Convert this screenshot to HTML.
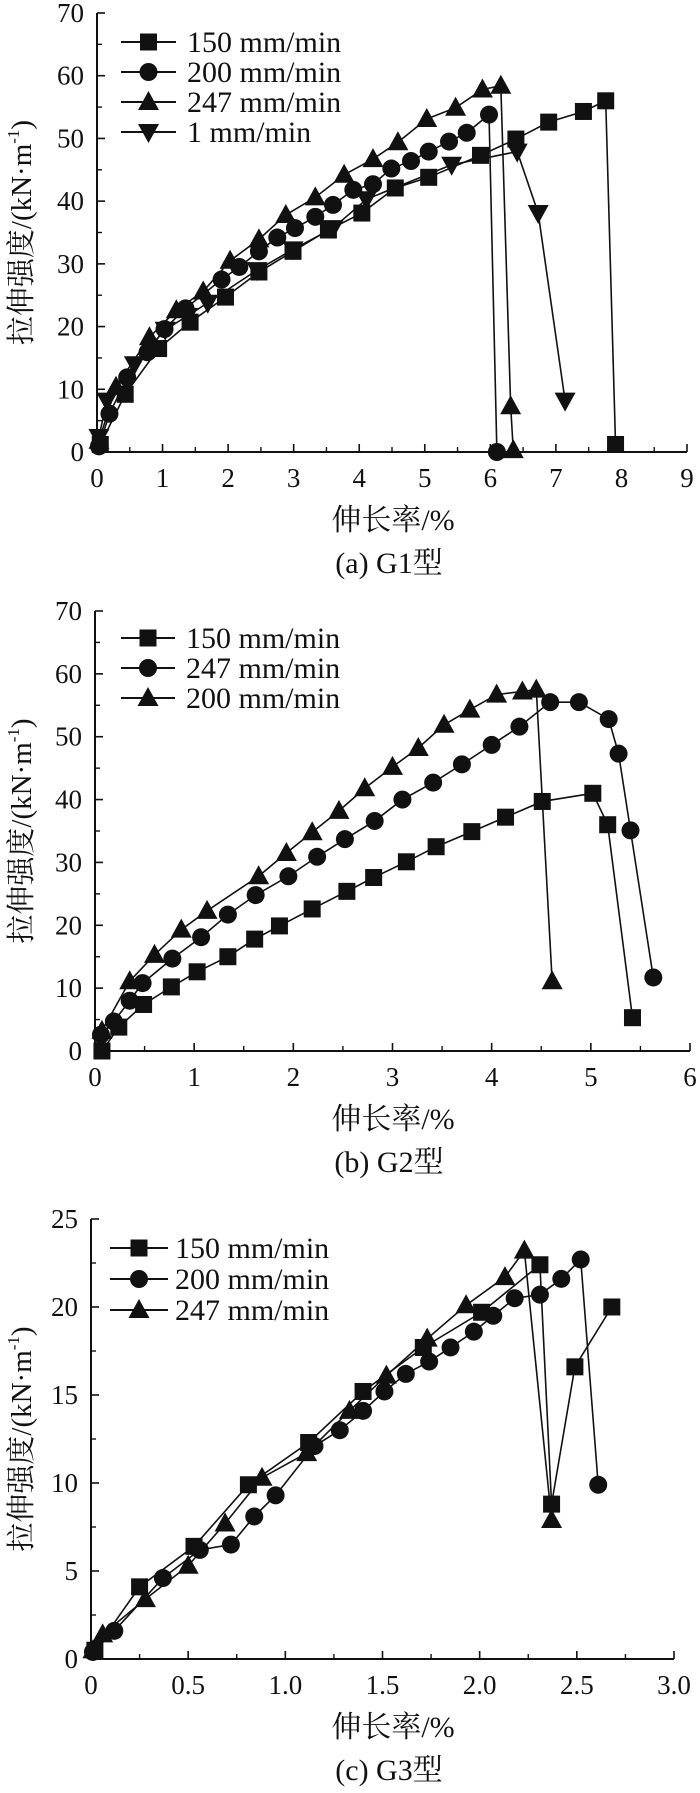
<!DOCTYPE html>
<html><head><meta charset="utf-8"><style>
html,body{margin:0;padding:0;background:#fff;}
svg{display:block;}
text{font-family:"Liberation Serif","Noto Serif CJK SC","Noto Sans CJK SC",serif;fill:#111;}
</style></head><body>
<svg id="fig" width="700" height="1793" viewBox="0 0 700 1793" xmlns="http://www.w3.org/2000/svg"></svg>
<script>
// ---- Chart (a) G1 data ----
const g1Labels = ["150 mm/min","200 mm/min","247 mm/min","1 mm/min"];
const g1S150x = [0.05,0.43,0.94,1.42,1.96,2.47,2.99,3.53,4.04,4.55,5.06,5.85,6.39,6.89,7.42,7.76,7.91];
const g1S150y = [1.2,9.2,16.5,20.7,24.7,28.7,32,35.4,38.1,42.1,43.8,47.3,49.9,52.6,54.3,56,1.2];
const g1S200x = [0.03,0.19,0.46,0.77,1.03,1.35,1.9,2.17,2.47,2.75,3.02,3.33,3.6,3.91,4.21,4.49,4.79,5.06,5.37,5.64,5.98,6.1];
const g1S200y = [0.9,6.1,11.9,15.9,19.6,22.9,27.5,29.5,32,34.2,35.7,37.5,39.4,41.8,42.7,45.2,46.4,47.9,49.5,50.9,53.8,0];
const g1S247x = [0.03,0.29,0.8,1.21,1.62,2.03,2.47,2.88,3.33,3.77,4.21,4.59,5.03,5.47,5.88,6.16,6.31,6.35];
const g1S247y = [1.8,10.4,18.3,22.6,25.6,30.5,33.9,37.8,40.6,44.2,46.7,49.4,53.1,54.9,57.8,58.4,7.3,0.3];
const g1S1x = [0.03,0.15,0.57,1.04,1.38,1.69,2.44,2.99,3.6,4.11,5.41,6.41,6.73,7.14];
const g1S1y = [2.4,8.2,14,19.5,21.7,23.8,29,32.3,35.7,40.3,45.8,47.9,38.1,8.2];
const g1XTicks = ["0","1","2","3","4","5","6","7","8","9"];
const g1YTicks = ["0","10","20","30","40","50","60","70"];

// ---- Chart (b) G2 data ----
const g2Labels = ["150 mm/min","247 mm/min","200 mm/min"];
const g2S150x = [0.07,0.24,0.49,0.77,1.03,1.34,1.61,1.86,2.19,2.54,2.81,3.14,3.44,3.8,4.14,4.51,5.02,5.17,5.42];
const g2S150y = [0,3.8,7.4,10.2,12.6,15,17.8,19.9,22.6,25.4,27.6,30.1,32.5,34.9,37.2,39.7,41,36,5.3];
const g2S247x = [0.06,0.19,0.35,0.48,0.78,1.07,1.34,1.62,1.95,2.24,2.52,2.82,3.1,3.41,3.7,4.0,4.28,4.59,4.88,5.18,5.28,5.4,5.63];
const g2S247y = [2.6,4.7,8,10.8,14.7,18.1,21.7,24.8,27.8,30.9,33.7,36.6,40,42.7,45.6,48.7,51.6,55.5,55.5,52.8,47.3,35.1,11.7];
const g2S200x = [0.07,0.35,0.6,0.87,1.13,1.65,1.93,2.19,2.46,2.72,3.0,3.26,3.52,3.78,4.05,4.31,4.45,4.61];
const g2S200y = [3.2,11.1,15.3,19.3,22.3,27.8,31.5,34.8,38.2,41.8,45.2,48.2,51.9,54.3,56.7,57.2,57.5,11.1];
const g2XTicks = ["0","1","2","3","4","5","6"];
const g2YTicks = ["0","10","20","30","40","50","60","70"];

// ---- Chart (c) G3 data ----
const g3Labels = ["150 mm/min","200 mm/min","247 mm/min"];
const g3S150x = [0.02,0.25,0.53,0.81,1.12,1.4,1.71,2.01,2.31,2.37,2.49,2.68];
const g3S150y = [0.5,4.1,6.4,9.9,12.3,15.2,17.7,19.7,22.4,8.8,16.6,20];
const g3S200x = [0.01,0.12,0.37,0.56,0.72,0.84,0.95,1.15,1.28,1.4,1.51,1.62,1.74,1.85,1.97,2.07,2.18,2.31,2.42,2.52,2.61];
const g3S200y = [0.4,1.6,4.6,6.2,6.5,8.1,9.3,12.1,13,14.1,15.2,16.2,16.9,17.7,18.6,19.5,20.5,20.7,21.6,22.7,9.9];
const g3S247x = [0.01,0.06,0.28,0.5,0.69,0.88,1.11,1.33,1.52,1.73,1.93,2.13,2.23,2.37];
const g3S247y = [0.5,1.4,3.4,5.3,7.7,10.3,11.7,14.1,16.1,18.2,20.1,21.7,23.2,7.9];
const g3XTicks = ["0","0.5","1.0","1.5","2.0","2.5","3.0"];
const g3YTicks = ["0","5","10","15","20","25"];

const NS = "http://www.w3.org/2000/svg";
const svg = document.getElementById("fig");
function mk(tag, attrs, parent) {
  const e = document.createElementNS(NS, tag);
  for (const k in attrs) e.setAttribute(k, attrs[k]);
  (parent || svg).appendChild(e);
  return e;
}
function marker(g, shape, cx, cy) {
  let m;
  if (shape === "square") {
    m = mk("rect", {x: cx-8.5, y: cy-8.5, width: 17, height: 17, fill: "#111"}, g);
  } else if (shape === "circle") {
    m = mk("circle", {cx: cx, cy: cy, r: 9, fill: "#111"}, g);
  } else if (shape === "tri") {
    m = mk("polygon", {points: `${cx},${cy-11} ${cx-10.5},${cy+8} ${cx+10.5},${cy+8}`, fill: "#111"}, g);
  } else {
    m = mk("polygon", {points: `${cx},${cy+11} ${cx-10.5},${cy-8} ${cx+10.5},${cy-8}`, fill: "#111"}, g);
  }
  return m;
}

function chart(c) {
  const g = mk("g", {});
  
  
  const xs = v => c.x0 + (v - c.xMin) / (c.xMax - c.xMin) * (c.x1 - c.x0);
  const ys = v => c.y0 - (v - c.yMin) / (c.yMax - c.yMin) * (c.y0 - c.y1);
  // axes
  const ax = mk("g", {}, g);
  
  
  mk("line", {x1: c.x0, y1: c.y0, x2: c.x1, y2: c.y0, stroke: "#111", "stroke-width": 2}, ax);
  mk("line", {x1: c.x0, y1: c.y0, x2: c.x0, y2: c.y1, stroke: "#111", "stroke-width": 2}, ax);
  // x ticks
  const nx = c.xTicks.length;
  for (let i = 0; i < nx; i++) {
    const v = c.xMin + i * (c.xMax - c.xMin) / (nx - 1);
    const px = xs(v);
    mk("line", {x1: px, y1: c.y0, x2: px, y2: c.y0 - 8, stroke: "#111", "stroke-width": 1.6}, ax);
    if (i < nx - 1) {
      const pm = xs(v + (c.xMax - c.xMin) / (nx - 1) / 2);
      mk("line", {x1: pm, y1: c.y0, x2: pm, y2: c.y0 - 5, stroke: "#111", "stroke-width": 1.4}, ax);
    }
    const t = mk("text", {x: px, y: c.y0 + 35, "font-size": 27, "text-anchor": "middle"}, ax);
    
    
    t.textContent = c.xTicks[i];
  }
  const ny = c.yTicks.length;
  for (let i = 0; i < ny; i++) {
    const v = c.yMin + i * (c.yMax - c.yMin) / (ny - 1);
    const py = ys(v);
    mk("line", {x1: c.x0, y1: py, x2: c.x0 + 8, y2: py, stroke: "#111", "stroke-width": 1.6}, ax);
    if (i < ny - 1) {
      const pm = ys(v + (c.yMax - c.yMin) / (ny - 1) / 2);
      mk("line", {x1: c.x0, y1: pm, x2: c.x0 + 5, y2: pm, stroke: "#111", "stroke-width": 1.4}, ax);
    }
    const t = mk("text", {x: c.x0 - 13, y: py + 9, "font-size": 27, "text-anchor": "end"}, ax);
    
    
    t.textContent = c.yTicks[i];
  }
  // titles
  const xt = mk("text", {x: 393, y: c.y0 + 78, "font-size": 30, "text-anchor": "middle"}, g);
  
  
  xt.textContent = "伸长率/%";
  const cap = mk("text", {x: 389, y: c.y0 + 121, "font-size": 30, "text-anchor": "middle"}, g);
  
  
  cap.textContent = c.caption;
  const cy = (c.y0 + c.y1) / 2;
  const yt = mk("text", {x: 0, y: 0, "font-size": 29, "text-anchor": "middle", transform: `translate(31,${cy}) rotate(-90)`}, g);
  
  
  const t1 = mk("tspan", {}, yt); t1.textContent = "拉伸强度/(kN·m";
  const t2 = mk("tspan", {"font-size": 17, dy: -12}, yt); t2.textContent = "-1";
  const t3 = mk("tspan", {dy: 12}, yt); t3.textContent = ")";
  // series
  c.series.forEach((s, si) => {
    const sg = mk("g", {}, g);
    
    
    const pts = s.x.map((v, i) => `${xs(v)},${ys(s.y[i])}`).join(" ");
    mk("polyline", {points: pts, fill: "none", stroke: "#111", "stroke-width": 1.6}, sg);
    s.x.forEach((v, i) => {
      const m = marker(sg, s.shape, xs(v), ys(s.y[i]));
      
      
    });
    // legend
    const ry = c.legY + si * c.legDy;
    const lg = mk("g", {}, g);
    
    
    mk("line", {x1: c.legX0, y1: ry, x2: c.legX1, y2: ry, stroke: "#111", "stroke-width": 2}, lg);
    marker(lg, s.shape, (c.legX0 + c.legX1) / 2, ry);
    const lt = mk("text", {x: c.legT, y: ry + 10, "font-size": 30}, lg);
    lt.textContent = s.label;
  });
}

chart({name: "chart-g1", caption: "(a) G1型", x0: 97, x1: 687, y0: 452, y1: 13, xMin: 0, xMax: 9, yMin: 0, yMax: 70,
  xTicks: g1XTicks, yTicks: g1YTicks, legY: 42, legDy: 30, legX0: 121, legX1: 176, legT: 187,
  series: [
    {label: g1Labels[0], shape: "square", x: g1S150x, y: g1S150y},
    {label: g1Labels[1], shape: "circle", x: g1S200x, y: g1S200y},
    {label: g1Labels[2], shape: "tri", x: g1S247x, y: g1S247y},
    {label: g1Labels[3], shape: "itri", x: g1S1x, y: g1S1y}]});
chart({name: "chart-g2", caption: "(b) G2型", x0: 95, x1: 690, y0: 1051, y1: 611, xMin: 0, xMax: 6, yMin: 0, yMax: 70,
  xTicks: g2XTicks, yTicks: g2YTicks, legY: 638, legDy: 30, legX0: 121, legX1: 175, legT: 186,
  series: [
    {label: g2Labels[0], shape: "square", x: g2S150x, y: g2S150y},
    {label: g2Labels[1], shape: "circle", x: g2S247x, y: g2S247y},
    {label: g2Labels[2], shape: "tri", x: g2S200x, y: g2S200y}]});
chart({name: "chart-g3", caption: "(c) G3型", x0: 91, x1: 674, y0: 1659, y1: 1219, xMin: 0, xMax: 3, yMin: 0, yMax: 25,
  xTicks: g3XTicks, yTicks: g3YTicks, legY: 1248, legDy: 31, legX0: 110, legX1: 168, legT: 175,
  series: [
    {label: g3Labels[0], shape: "square", x: g3S150x, y: g3S150y},
    {label: g3Labels[1], shape: "circle", x: g3S200x, y: g3S200y},
    {label: g3Labels[2], shape: "tri", x: g3S247x, y: g3S247y}]});
</script>
</body></html>
